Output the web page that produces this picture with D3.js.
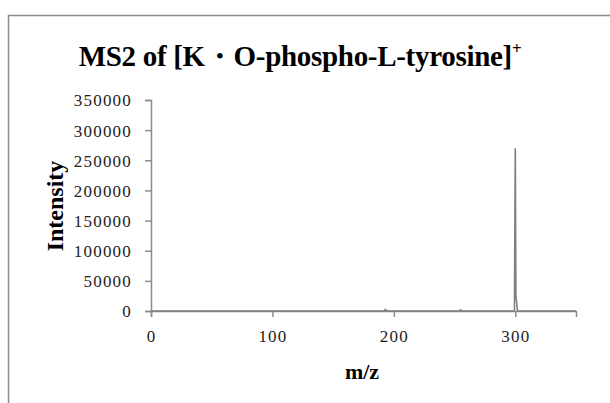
<!DOCTYPE html>
<html><head><meta charset="utf-8">
<script src="https://cdn.jsdelivr.net/npm/d3@7"></script>
<style>body{margin:0;background:#fff}svg{display:block}</style>
</head><body>
<script>
// data
const mzValues = [0, 192, 193, 194, 254, 255, 256, 299.3, 300, 300.5, 301.1, 301.8, 350];
const intensityValues = [0, 0, 2500, 0, 0, 2000, 0, 0, 270000, 24000, 14000, 0, 0];
const xTicks = [0, 100, 200, 300];
const yTicks = [0, 50000, 100000, 150000, 200000, 250000, 300000, 350000];
const titleText = "MS2 of [K\u30FBO-phospho-L-tyrosine]";
const xLabel = "m/z", yLabel = "Intensity";

const W = 610, H = 403;
const svg = d3.select("body").append("svg").attr("width", W).attr("height", H);
svg.append("rect").attr("x", 8.5).attr("y", 15.5).attr("width", 700).attr("height", 500)
  .attr("fill", "#fff").attr("stroke", "#8c8c8c").attr("stroke-width", 1.5);

const x = d3.scaleLinear().domain([0, 350]).range([151, 576]);
const y = d3.scaleLinear().domain([0, 350000]).range([311, 100]);

const font = "'Liberation Serif','Times New Roman',serif";

// title
const t = svg.append("text").attr("x", 300).attr("y", 66).attr("text-anchor", "middle")
  .attr("font-family", font).attr("font-weight", "bold").attr("font-size", 29)
  .attr("letter-spacing", "-0.3px").attr("fill", "#000");
t.append("tspan").text(titleText);
t.append("tspan").attr("dy", -12).attr("font-size", 17).text("+");

// axes
const yAxis = d3.axisLeft(y).tickValues(yTicks).tickSize(6).tickPadding(13).tickFormat(d3.format("d"));
const gy = svg.append("g").attr("transform", `translate(${x(0)},0)`).call(yAxis);
const xAxis = d3.axisBottom(x).tickValues(xTicks).tickSize(6).tickPadding(13).tickFormat(d3.format("d"));
const gx = svg.append("g").attr("transform", `translate(0,${y(0)})`).call(xAxis);
[gx, gy].forEach(g => {
  g.select(".domain").attr("stroke", "#8c8c8c").attr("stroke-width", 1.5);
  g.selectAll(".tick line").attr("stroke", "#8c8c8c").attr("stroke-width", 1.5);
  g.selectAll(".tick text").attr("font-family", font).attr("font-size", 17)
    .attr("letter-spacing", "1.2px").attr("fill", "#222");
});
gy.selectAll(".tick text").attr("dy", "0.35em");

// spectrum line
const data = mzValues.map((m, i) => ({m, v: intensityValues[i]}));
svg.append("path").datum(data)
  .attr("d", d3.line().x(d => x(d.m)).y(d => y(d.v)))
  .attr("fill", "none").attr("stroke", "#7f7f7f").attr("stroke-width", 1.6);

// axis labels
svg.append("text").attr("x", 362).attr("y", 379).attr("text-anchor", "middle")
  .attr("font-family", font).attr("font-weight", "bold").attr("font-size", 22).text(xLabel);
svg.append("text").attr("transform", "translate(63,206) rotate(-90)").attr("text-anchor", "middle")
  .attr("font-family", font).attr("font-weight", "bold").attr("font-size", 24).text(yLabel);
</script>
</body></html>
